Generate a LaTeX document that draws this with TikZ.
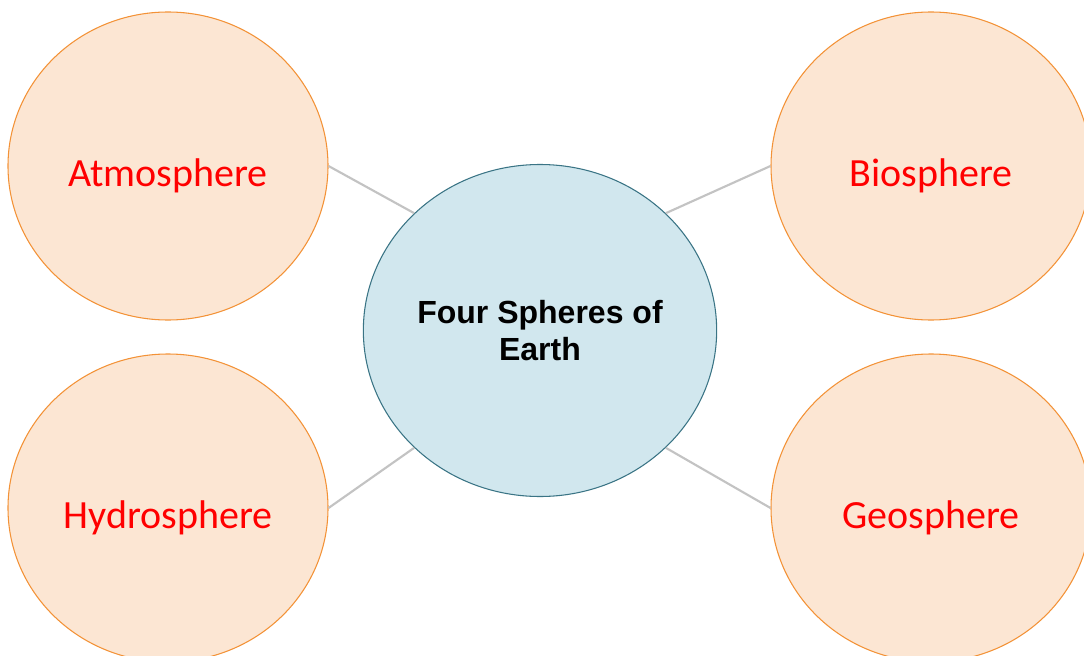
\documentclass[tikz,border=0pt]{standalone}
\usepackage{fontspec}
\setmainfont{Liberation Sans}
\newfontfamily\handfont{Carlito}
\usepackage{tikz}
\usetikzlibrary{shapes.geometric}
\definecolor{spherefill}{HTML}{FCE6D3}
\definecolor{sphereline}{HTML}{F39237}
\definecolor{earthfill}{HTML}{D1E7EE}
\definecolor{earthline}{HTML}{3A7485}
\definecolor{linkgray}{HTML}{C3C3C3}
\definecolor{labelred}{HTML}{FF0000}

\begin{document}
\begin{tikzpicture}[x=0.75pt, y=-0.75pt,
  spherenode/.style={ellipse, draw=sphereline, fill=spherefill, line width=0.8pt,
    minimum width=240pt, minimum height=231pt, inner sep=0pt,
    text height=30pt, text depth=0pt,
    text=labelred, font=\handfont\fontsize{30}{34}\selectfont},
  earthnode/.style={ellipse, draw=earthline, fill=earthfill, line width=0.8pt,
    minimum width=265pt, minimum height=249pt, inner sep=0pt, align=center,
    font=\bfseries\fontsize{24}{28}\selectfont},
  link/.style={draw=linkgray, line width=1.6pt}]
\useasboundingbox (0,0) rectangle (1084,656);

% centre
\node[earthnode] (earth) at (540,330.5) {Four Spheres of\\Earth};

% the four spheres
\node[spherenode] (atmo)  at (168,166) {Atmosphere};
\node[spherenode] (hydro) at (168,508) {Hydrosphere};
\node[spherenode] (bio)   at (931,166) {Biosphere};
\node[spherenode] (geo)   at (931,508) {Geosphere};

% connectors
\draw[link] (atmo.east)  -- (earth.137);
\draw[link] (hydro.east) -- (earth.223);
\draw[link] (bio.west)   -- (earth.43);
\draw[link] (geo.west)   -- (earth.317);
\end{tikzpicture}
\end{document}
